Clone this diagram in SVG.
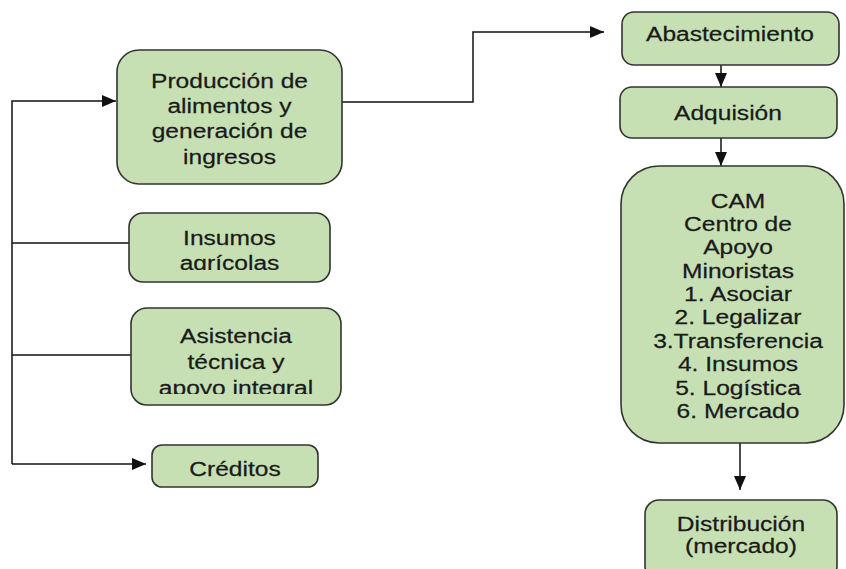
<svg xmlns="http://www.w3.org/2000/svg" width="846" height="569" viewBox="0 0 846 569">
<style>
.box{fill:#c6e0b4;stroke:#333;stroke-width:1.6}
.t{font-family:"Liberation Sans",Arial,sans-serif;font-size:21px;fill:#1a1a1a;stroke:#1a1a1a;stroke-width:0.25;text-anchor:middle}
.c{fill:none;stroke:#111;stroke-width:1.5}
</style>
<defs>
<marker id="ah" markerWidth="14" markerHeight="12" refX="14" refY="6" orient="auto" markerUnits="userSpaceOnUse">
<path d="M0,0 L14,6 L0,12 Z" fill="#111"/>
</marker>
<clipPath id="clipIns"><rect x="129" y="213" width="201" height="57"/></clipPath>
<clipPath id="clipAsi"><rect x="131" y="308" width="210" height="86"/></clipPath>
</defs>
<rect width="846" height="569" fill="#fff"/>
<g id="connectors">
<path class="c" d="M12,464 V101 H116" marker-end="url(#ah)"/>
<path class="c" d="M12,243 H129"/>
<path class="c" d="M12,355 H131"/>
<path class="c" d="M12,464 H146" marker-end="url(#ah)"/>
<path class="c" d="M342,102 H473 V32 H604" marker-end="url(#ah)"/>
<path class="c" d="M721,65 V87" marker-end="url(#ah)"/>
<path class="c" d="M721,138 V166" marker-end="url(#ah)"/>
<path class="c" d="M740,443 V490" marker-end="url(#ah)"/>
</g>
<g id="produccion">
<rect class="box" x="117" y="50" width="225" height="134" rx="22"/>
<text class="t" transform="translate(229.5,87.5) scale(1.17 1)"><tspan x="0">Producción de</tspan><tspan x="0" dy="25.5">alimentos y</tspan><tspan x="0" dy="25.5">generación de</tspan><tspan x="0" dy="25.5">ingresos</tspan></text>
</g>
<g id="insumos">
<rect class="box" x="129" y="213" width="201" height="69" rx="14"/>
<g clip-path="url(#clipIns)">
<text class="t" transform="translate(229.5,244.5) scale(1.17 1)"><tspan x="0">Insumos</tspan><tspan x="0" dy="26">agrícolas</tspan></text>
</g>
</g>
<g id="asistencia">
<rect class="box" x="131" y="308" width="210" height="97" rx="16"/>
<g clip-path="url(#clipAsi)">
<text class="t" transform="translate(236,342.5) scale(1.17 1)"><tspan x="0">Asistencia</tspan><tspan x="0" dy="26.5">técnica y</tspan><tspan x="0" dy="26.5">apoyo integral</tspan></text>
</g>
</g>
<g id="creditos">
<rect class="box" x="152" y="445" width="166" height="42" rx="10"/>
<text class="t" transform="translate(235,475.5) scale(1.17 1)">Créditos</text>
</g>
<g id="abastecimiento">
<rect class="box" x="622" y="12" width="217" height="53" rx="12"/>
<text class="t" transform="translate(730,40.5) scale(1.17 1)">Abastecimiento</text>
</g>
<g id="adquisicion">
<rect class="box" x="620" y="87" width="217" height="51" rx="12"/>
<text class="t" transform="translate(728,119.5) scale(1.17 1)">Adquisión</text>
</g>
<g id="cam">
<rect class="box" x="621" y="166" width="223" height="277" rx="38"/>
<text class="t" transform="translate(738,207.5) scale(1.17 1)"><tspan x="0">CAM</tspan><tspan x="0" dy="23.4">Centro de</tspan><tspan x="0" dy="23.4">Apoyo</tspan><tspan x="0" dy="23.4">Minoristas</tspan><tspan x="0" dy="23.4">1. Asociar</tspan><tspan x="0" dy="23.4">2. Legalizar</tspan><tspan x="0" dy="23.4">3.Transferencia</tspan><tspan x="0" dy="23.4">4. Insumos</tspan><tspan x="0" dy="23.4">5. Logística</tspan><tspan x="0" dy="23.4">6. Mercado</tspan></text>
</g>
<g id="distribucion">
<rect class="box" x="645" y="500" width="192" height="80" rx="14"/>
<text class="t" transform="translate(741,530.5) scale(1.17 1)"><tspan x="0">Distribución</tspan><tspan x="0" dy="22.5">(mercado)</tspan></text>
</g>
</svg>
